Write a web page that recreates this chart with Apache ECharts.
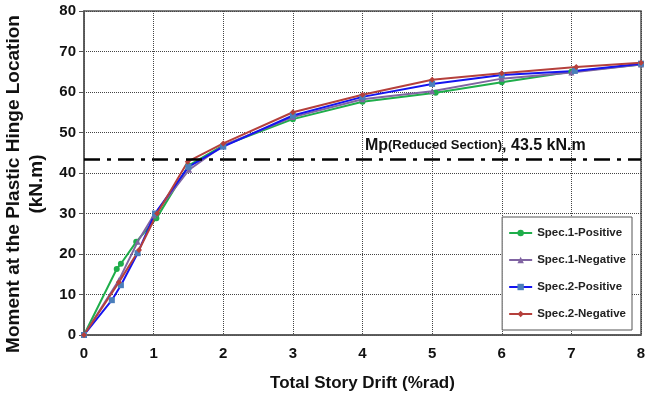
<!DOCTYPE html>
<html>
<head>
<meta charset="utf-8">
<script src="https://cdn.jsdelivr.net/npm/echarts@6/dist/echarts.min.js"></script>
<style>
  html, body { margin: 0; padding: 0; background: #fff; }
  #chart { width: 645px; height: 397px; }
</style>
</head>
<body>
<div id="chart"></div>
<script>
// data: [drift %rad, moment kN.m]
const spec1Pos = [[0, 0], [0.47, 16.3], [0.53, 17.6], [0.75, 23], [1.04, 28.8], [1.5, 41.8], [2, 46.8], [3, 53.3], [4, 57.6], [5.05, 59.8], [6, 62.4], [7, 65], [8, 66.8]]
const spec1Neg = [[0, 0], [0.5, 13.5], [0.77, 23], [1.0, 29.5], [1.51, 40.8], [2, 46.8], [3, 53.8], [4, 58.2], [5, 60.2], [6, 63.3], [7, 64.8], [8, 66.8]]
const spec2Pos = [[0, 0], [0.4, 8.6], [0.53, 12.3], [0.77, 20.2], [1.02, 30], [1.5, 41.5], [2, 46.5], [3, 54.2], [4, 58.8], [5, 62], [6, 64.2], [7.05, 65.2], [8, 67]]
const spec2Neg = [[0, 0], [0.5, 13], [0.79, 21], [1.05, 30], [1.49, 42.8], [2, 47.3], [3, 55], [4, 59.3], [5, 63], [6, 64.6], [7.07, 66.2], [8, 67.2]]
const seriesNames = ['Spec.1-Positive', 'Spec.1-Negative', 'Spec.2-Positive', 'Spec.2-Negative']
const mpValue = 43.5

const chart = echarts.init(document.getElementById('chart'))

// 每条曲线的样式
function makeSeries(name, data, lineColor, markColor, symbol) {
  return {
    name: name,
    type: 'line',
    data: data,
    symbol: symbol,
    symbolSize: 6,
    showSymbol: true,
    lineStyle: { color: lineColor, width: 2 },
    itemStyle: { color: markColor },
    z: 3
  }
}

const series = [
  makeSeries(seriesNames[0], spec1Pos, '#1fae4b', '#1fae4b', 'circle'),
  makeSeries(seriesNames[1], spec1Neg, '#8064a2', '#8064a2', 'triangle'),
  makeSeries(seriesNames[2], spec2Pos, '#1414f0', '#4a7ebb', 'rect'),
  makeSeries(seriesNames[3], spec2Neg, '#b5403c', '#b5403c', 'diamond')
]

// Mp 参考线
series.push({
  type: 'line',
  data: [],
  silent: true,
  markLine: {
    symbol: 'none',
    silent: true,
    lineStyle: { color: '#000', width: 2.5, type: [16, 7, 4, 7] },
    label: { show: false },
    data: [{ yAxis: mpValue }]
  },
  markPoint: {
    symbol: 'rect',
    symbolSize: 0,
    label: {
      show: true,
      position: 'inside',
      formatter: '{a|Mp}{b|(Reduced Section)}{a|, ' + mpValue + ' kN.m}',
      rich: {
        a: { fontFamily: 'Liberation Sans', fontSize: 16, fontWeight: 'bold', color: '#111' },
        b: { fontFamily: 'Liberation Sans', fontSize: 13, fontWeight: 'bold', color: '#111' }
      }
    },
    data: [{ coord: [5.62, 46.8] }]
  }
})

chart.setOption({
  animation: false,
  grid: {
    left: 84,
    right: 4,
    top: 11,
    bottom: 62,
    outerBoundsMode: 'none',
    containLabel: false,
    show: true,
    borderColor: '#555',
    borderWidth: 1.5
  },
  legend: {
    orient: 'vertical',
    right: 13,
    top: 217,
    data: seriesNames,
    backgroundColor: '#fff',
    borderColor: '#555',
    borderWidth: 1,
    padding: [10, 6, 10, 6],
    itemGap: 15,
    itemWidth: 23,
    itemHeight: 8,
    textStyle: { fontFamily: 'Liberation Sans', fontSize: 11.5, fontWeight: 'bold', color: '#222' }
  },
  xAxis: {
    type: 'value',
    min: 0,
    max: 8,
    interval: 1,
    name: 'Total Story Drift (%rad)',
    nameLocation: 'middle',
    nameGap: 40,
    nameTextStyle: { fontFamily: 'Liberation Sans', fontSize: 17, fontWeight: 'bold', color: '#111' },
    axisLine: { lineStyle: { color: '#555', width: 1.5 } },
    axisTick: { show: false },
    axisLabel: { fontFamily: 'Liberation Sans', fontSize: 15, fontWeight: 'bold', color: '#111', margin: 11 },
    splitLine: { lineStyle: { color: '#444', type: 'dotted', width: 1 } }
  },
  yAxis: {
    type: 'value',
    min: 0,
    max: 80,
    interval: 10,
    name: 'Moment at the Plastic Hinge Location\n(kN.m)',
    nameLocation: 'middle',
    nameRotate: 90,
    nameGap: 32,
    nameTextStyle: {
      fontFamily: 'Liberation Sans',
      fontSize: 19,
      fontWeight: 'bold',
      color: '#111',
      lineHeight: 23,
      padding: [0, 22, 0, 0]
    },
    axisLine: { show: true, lineStyle: { color: '#555', width: 1.5 } },
    axisTick: { show: true, length: 5, lineStyle: { color: '#555' } },
    axisLabel: { fontFamily: 'Liberation Sans', fontSize: 15, fontWeight: 'bold', color: '#111', margin: 8 },
    splitLine: { lineStyle: { color: '#444', type: 'dotted', width: 1 } }
  },
  series: series
})
</script>
</body>
</html>
